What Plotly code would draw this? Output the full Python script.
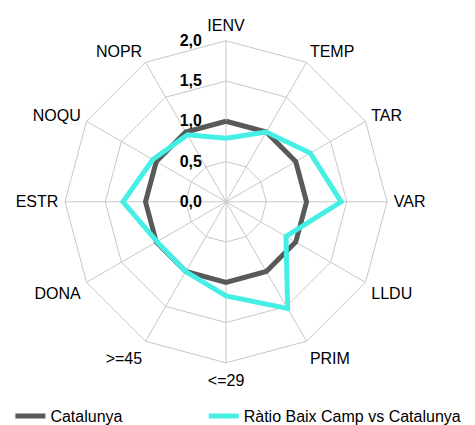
import plotly.graph_objects as go

# Data
categories = ["IENV", "TEMP", "TAR", "VAR", "LLDU", "PRIM",
              "<=29", ">=45", "DONA", "ESTR", "NOQU", "NOPR"]
catalunya = [1.0] * 12
ratio_baix_camp = [0.79, 1.0, 1.21, 1.43, 0.86, 1.53,
                   1.17, 1.0, 0.99, 1.28, 1.05, 0.96]
radial_ticks = [0.0, 0.5, 1.0, 1.5, 2.0]

FONT = "Liberation Sans, Arial, sans-serif"


def closed(values):
    return values + values[:1]


fig = go.Figure()
fig.add_trace(go.Scatterpolar(
    r=closed(catalunya), theta=closed(categories),
    mode="lines", name="Catalunya", legend="legend",
    line=dict(color="#595959", width=5),
))
fig.add_trace(go.Scatterpolar(
    r=closed(ratio_baix_camp), theta=closed(categories),
    mode="lines", name="Ràtio Baix Camp vs Catalunya", legend="legend2",
    line=dict(color="#45EFE6", width=5),
))

legend_style = dict(orientation="h", y=0.04, xanchor="left", yanchor="middle",
                    font=dict(size=16), itemwidth=30, bgcolor="rgba(0,0,0,0)")

fig.update_layout(
    width=475, height=425,
    margin=dict(l=0, r=0, t=0, b=0),
    paper_bgcolor="white",
    separators=",.",
    font=dict(family=FONT, size=16, color="black"),
    showlegend=True,
    legend=dict(x=0.005, **legend_style),
    legend2=dict(x=0.412, **legend_style),
    polar=dict(
        domain=dict(x=[0.12, 0.798], y=[0.165, 0.923]),
        bgcolor="white",
        gridshape="linear",
        radialaxis=dict(
            range=[0, 2], tickvals=radial_ticks, tickformat=".1f",
            angle=90, side="counterclockwise", tickangle=90,
            showline=False,
            ticks="outside", ticklen=18, tickcolor="rgba(0,0,0,0)",
            gridcolor="#c8c8c8", gridwidth=1,
            tickfont=dict(size=16, family=FONT, color="black", weight="bold"),
        ),
        angularaxis=dict(
            rotation=90, direction="clockwise",
            showline=True, linecolor="#c8c8c8", linewidth=1,
            gridcolor="#c8c8c8", gridwidth=1,
            ticks="outside", ticklen=3, tickcolor="rgba(0,0,0,0)",
            tickfont=dict(size=16, family=FONT, color="black"),
        ),
    ),
)

fig.write_html("out.html")
